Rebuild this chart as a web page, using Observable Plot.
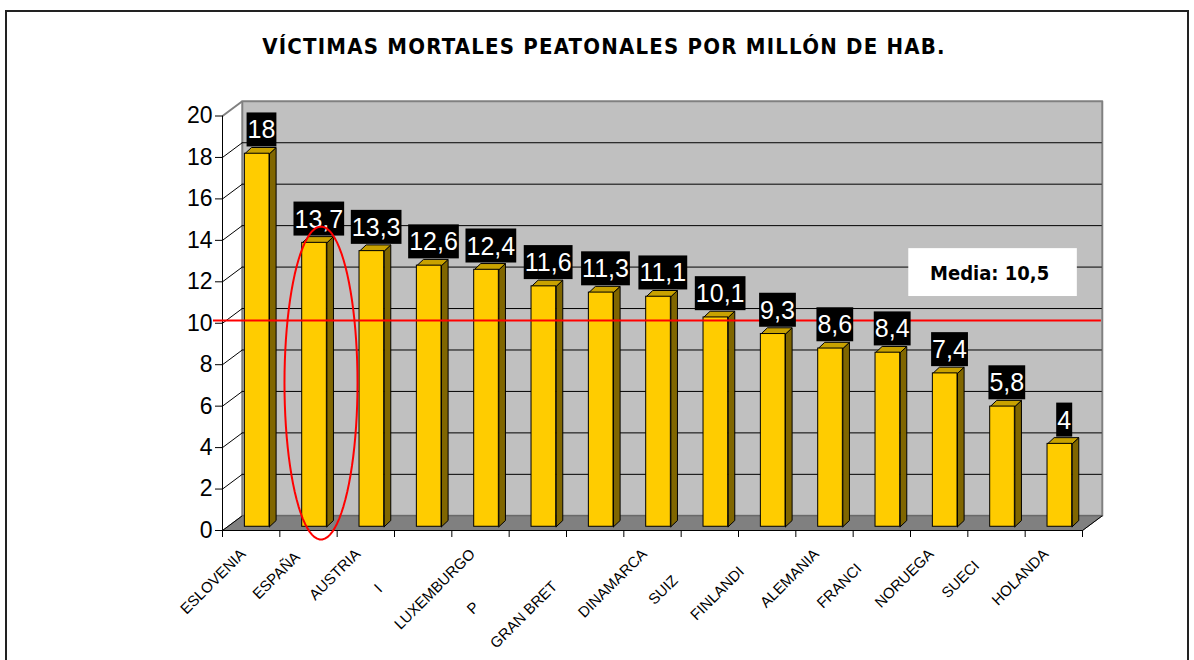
<!DOCTYPE html>
<html><head><meta charset="utf-8">
<script src="https://cdn.jsdelivr.net/npm/d3@7"></script>
<script src="https://cdn.jsdelivr.net/npm/@observablehq/plot@0.6"></script>
<style>
body{margin:0;width:1194px;height:660px;overflow:hidden;position:relative;background:#fff;font-family:"Liberation Sans",Arial,sans-serif}
#frame{position:absolute;left:5px;top:10px;width:1184px;height:700px;border:2px solid #222;box-sizing:border-box}
#title{position:absolute;top:34px;left:0;width:1208px;text-align:center;font:bold 22px "DejaVu Sans Condensed","DejaVu Sans",sans-serif;letter-spacing:1.2px;color:#000;line-height:26px}
#chart{position:absolute;left:0;top:0}
</style></head><body>
<div id="frame"></div>
<div id="title">VÍCTIMAS MORTALES PEATONALES POR MILLÓN DE HAB.</div>
<div id="chart"></div>
<script>
// ---- data ----
const countries = ["ESLOVENIA","ESPAÑA","AUSTRIA","I","LUXEMBURGO","P","GRAN BRET","DINAMARCA","SUIZ","FINLANDI","ALEMANIA","FRANCI","NORUEGA","SUECI","HOLANDA"];
const values = [18, 13.7, 13.3, 12.6, 12.4, 11.6, 11.3, 11.1, 10.1, 9.3, 8.6, 8.4, 7.4, 5.8, 4];
const yTicks = [0, 2, 4, 6, 8, 10, 12, 14, 16, 18, 20];
const mediaText = "Media: 10,5";
const highlighted = "ESPAÑA";

// ---- layout (styles / geometry, not data) ----
const labelPad = [0,1,0,12,0,18,11,0,9,6,0,5,0,4,0]; // clipped labels in the original
const n = countries.length;
const W = {dx: 0.345, dy: 0.71};          // wall depth in data units
const B = {x0: 0.39, x1: 0.82, base: 0.18, dx: 0.115, dy: 0.3}; // bar geometry
const fmt = v => String(v).replace(".", ",");

const rows = values.map((v, i) => ({i, v, name: countries[i]}));
const poly = (id, pts) => pts.map(([x, y]) => ({id, x, y}));

const wall = poly("wall", [[W.dx, W.dy], [n + W.dx, W.dy], [n + W.dx, 20 + W.dy], [W.dx, 20 + W.dy], [W.dx, W.dy]]);
const floor = poly("floor", [[0, 0], [n, 0], [n + W.dx, W.dy], [W.dx, W.dy], [0, 0]]);
const sides = rows.flatMap(r => {
  const x1 = r.i + B.x1, b = B.base, t = r.v + B.base;
  return poly(r.i, [[x1, b], [x1 + B.dx, b + B.dy], [x1 + B.dx, t + B.dy], [x1, t], [x1, b]]);
});
const tops = rows.flatMap(r => {
  const x0 = r.i + B.x0, x1 = r.i + B.x1, t = r.v + B.base;
  return poly(r.i, [[x0, t], [x1, t], [x1 + B.dx, t + B.dy], [x0 + B.dx, t + B.dy], [x0, t]]);
});
// highlight ellipse around the highlighted bar
const hi = countries.indexOf(highlighted);
const ell = {cx: hi + 0.718, cy: 7.115, rx: 0.637, ry: 7.55};
const ellipse = d3.range(0, 361, 4).map(a => ({x: ell.cx + ell.rx * Math.cos(a * Math.PI / 180), y: ell.cy + ell.ry * Math.sin(a * Math.PI / 180)}));
const mediaLineY = 10.13;

const chart = Plot.plot({
  width: 1194, height: 660,
  marginLeft: 222, marginRight: 112, marginTop: 115.5, marginBottom: 130,
  x: {type: "linear", domain: [0, n], axis: null},
  y: {type: "linear", domain: [0, 20], axis: null},
  style: {fontFamily: "Liberation Sans, Arial, sans-serif", fontSize: "13px", background: "transparent", overflow: "visible", color: "#000"},
  marks: [
    Plot.line(wall, {x: "x", y: "y", z: "id", fill: "#c0c0c0", stroke: "#808080", strokeWidth: 2}),
    Plot.line(floor, {x: "x", y: "y", z: "id", fill: "#808080", stroke: "#606060", strokeWidth: 1}),
    Plot.ruleY(yTicks.filter(v => v > 0 && v < 20), {y: v => v + W.dy, x1: W.dx, x2: n + W.dx, stroke: "#000", strokeWidth: 1}),
    Plot.link(yTicks.filter(v => v < 20), {x1: 0, y1: v => v, x2: W.dx, y2: v => v + W.dy, stroke: "#000", strokeWidth: 1}),
    Plot.link([20], {x1: 0, y1: v => v, x2: W.dx, y2: v => v + W.dy, stroke: "#808080", strokeWidth: 2}),
    Plot.link([0], {x1: n, y1: 0, x2: n + W.dx, y2: W.dy, stroke: "#000", strokeWidth: 1}),
    Plot.ruleX([0], {y1: 0, y2: 20, stroke: "#000"}),
    Plot.ruleY([0], {x1: 0, x2: n, stroke: "#000"}),
    Plot.axisY(yTicks, {anchor: "left", label: null, tickSize: 7, tickPadding: 3, fontSize: 23, tickFormat: d => d}),
    Plot.axisX(d3.range(n + 1), {anchor: "bottom", label: null, tickSize: 7, tickFormat: () => ""}),
    Plot.text(rows, {x: r => r.i + 0.5, y: 0, text: r => r.name + "\u00a0".repeat(labelPad[r.i]), rotate: -45, textAnchor: "end", dx: -8, dy: 21, fontSize: 15}),
    Plot.line(sides, {x: "x", y: "y", z: "id", fill: "#806600", stroke: "#000", strokeWidth: 1}),
    Plot.line(tops, {x: "x", y: "y", z: "id", fill: "#c9a200", stroke: "#000", strokeWidth: 1}),
    Plot.rect(rows, {x1: r => r.i + B.x0, x2: r => r.i + B.x1, y1: B.base, y2: r => r.v + B.base, fill: "#ffcc00", stroke: "#000", strokeWidth: 1}),
    Plot.ruleY([mediaLineY], {x1: -0.157, x2: n + 0.33, stroke: "#ff0000", strokeWidth: 2}),
    Plot.rect([mediaText], {x1: 11.97, x2: 14.91, y1: 11.29, y2: 13.6, fill: "#fff"}),
    Plot.text([mediaText], {x: 13.38, y: 12.4, text: d => d, fontSize: 20, fontWeight: "bold", fontFamily: "DejaVu Sans Condensed, DejaVu Sans, sans-serif", fill: "#000"}),
    Plot.text(rows, {x: r => r.i + 0.68, y: r => r.v, text: r => fmt(r.v), fill: "#ffffff", fontSize: 25, dy: -27}),
    Plot.line(ellipse, {x: "x", y: "y", stroke: "#ff0000", strokeWidth: 2})
  ]
});
document.getElementById("chart").appendChild(chart);

// black boxes behind the value labels (the white text mark)
chart.querySelectorAll('g[aria-label="text"]').forEach(g => {
  if (g.getAttribute("fill") !== "#ffffff") return;
  g.querySelectorAll("text").forEach(t => {
    const b = t.getBBox();
    const r = document.createElementNS("http://www.w3.org/2000/svg", "rect");
    r.setAttribute("x", b.x - 1);
    r.setAttribute("y", b.y - 3);
    r.setAttribute("width", b.width + 2);
    r.setAttribute("height", b.height + 6);
    r.setAttribute("fill", "#000");
    if (t.getAttribute("transform")) r.setAttribute("transform", t.getAttribute("transform"));
    t.parentNode.insertBefore(r, t);
  });
});
</script>
</body></html>
